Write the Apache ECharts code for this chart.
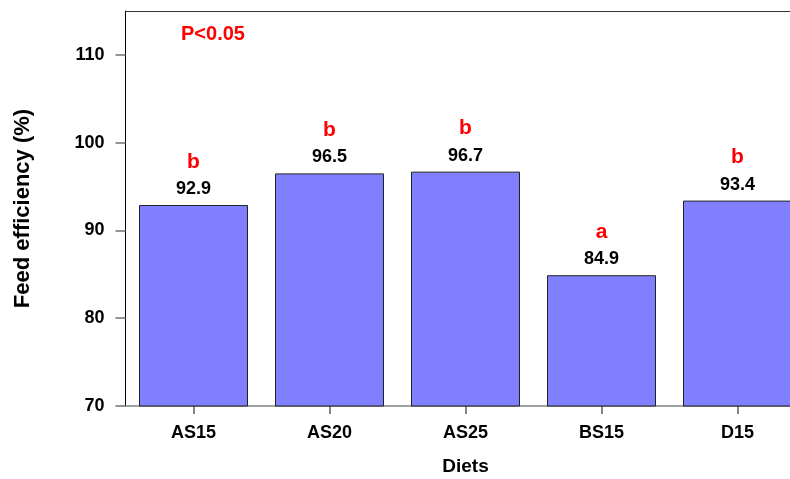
<!DOCTYPE html>
<html>
<head>
<meta charset="utf-8">
<script src="https://cdn.jsdelivr.net/npm/echarts@6/dist/echarts.min.js"></script>
<style>
  html, body { margin: 0; padding: 0; background: #fff; }
  #chart { width: 790px; height: 479px; }
</style>
</head>
<body>
<div id="chart"></div>
<script>
// Diet groups and their measured feed efficiency
const diets = ['AS15', 'AS20', 'AS25', 'BS15', 'D15'];
const feedEfficiency = [92.9, 96.5, 96.7, 84.9, 93.4];
// Significance groupings from the multiple-comparison test
const groupLetters = ['b', 'b', 'b', 'a', 'b'];
const yTicks = [70, 80, 90, 100, 110];

const FONT = 'Liberation Sans, Arial, sans-serif';
const chart = echarts.init(document.getElementById('chart'), null, { renderer: 'canvas' });

chart.setOption({
  animation: false,
  backgroundColor: '#ffffff',
  textStyle: { fontFamily: FONT },
  graphic: [{
    type: 'text',
    left: 181,
    top: 24,
    style: { text: 'P<0.05', fill: '#ff0000', font: 'bold 20px ' + FONT }
  }],
  grid: {
    left: 125.5, right: -15.5, top: 11, bottom: 73,
    containLabel: false,
    outerBoundsMode: 'none'
  },
  xAxis: [{
    type: 'category',
    data: diets,
    name: 'Diets',
    nameLocation: 'middle',
    nameGap: 51,
    nameTextStyle: { fontWeight: 'bold', fontSize: 19, color: '#000', fontFamily: FONT },
    axisLine: { show: true, lineStyle: { color: '#808080', width: 1.5 } },
    axisTick: { show: true, alignWithLabel: true, length: 8, lineStyle: { color: '#606060', width: 1.5 } },
    axisLabel: { fontWeight: 'bold', fontSize: 18, color: '#000', margin: 18, fontFamily: FONT },
    splitLine: { show: false }
  }, {
    type: 'category',
    data: diets,
    position: 'top',
    axisLine: { show: true, lineStyle: { color: '#333', width: 1 } },
    axisTick: { show: false },
    axisLabel: { show: false },
    splitLine: { show: false }
  }],
  yAxis: {
    type: 'value',
    min: 70,
    max: 115,
    interval: 10,
    name: 'Feed efficiency (%)',
    nameLocation: 'middle',
    nameGap: 92,
    nameRotate: 90,
    nameTextStyle: { fontWeight: 'bold', fontSize: 22, color: '#000', fontFamily: FONT },
    axisLine: { show: true, onZero: false, lineStyle: { color: '#000', width: 1 } },
    axisTick: { show: true, length: 10, customValues: yTicks, lineStyle: { color: '#707070', width: 1.5 } },
    axisLabel: {
      fontWeight: 'bold', fontSize: 18, color: '#000', margin: 21, fontFamily: FONT,
      customValues: yTicks
    },
    splitLine: { show: false }
  },
  series: [{
    type: 'bar',
    data: feedEfficiency,
    barWidth: 109,
    itemStyle: { color: '#8080ff', borderColor: '#222', borderWidth: 1 },
    label: {
      show: true,
      position: 'top',
      distance: 7,
      formatter: p => '{g|' + groupLetters[p.dataIndex] + '}\n{v|' + p.value.toFixed(1) + '}',
      rich: {
        g: { color: '#ff0000', fontWeight: 'bold', fontSize: 21, fontFamily: FONT, lineHeight: 36 },
        v: { color: '#000', fontWeight: 'bold', fontSize: 18, fontFamily: FONT, lineHeight: 18 }
      }
    }
  }]
});
</script>
</body>
</html>
